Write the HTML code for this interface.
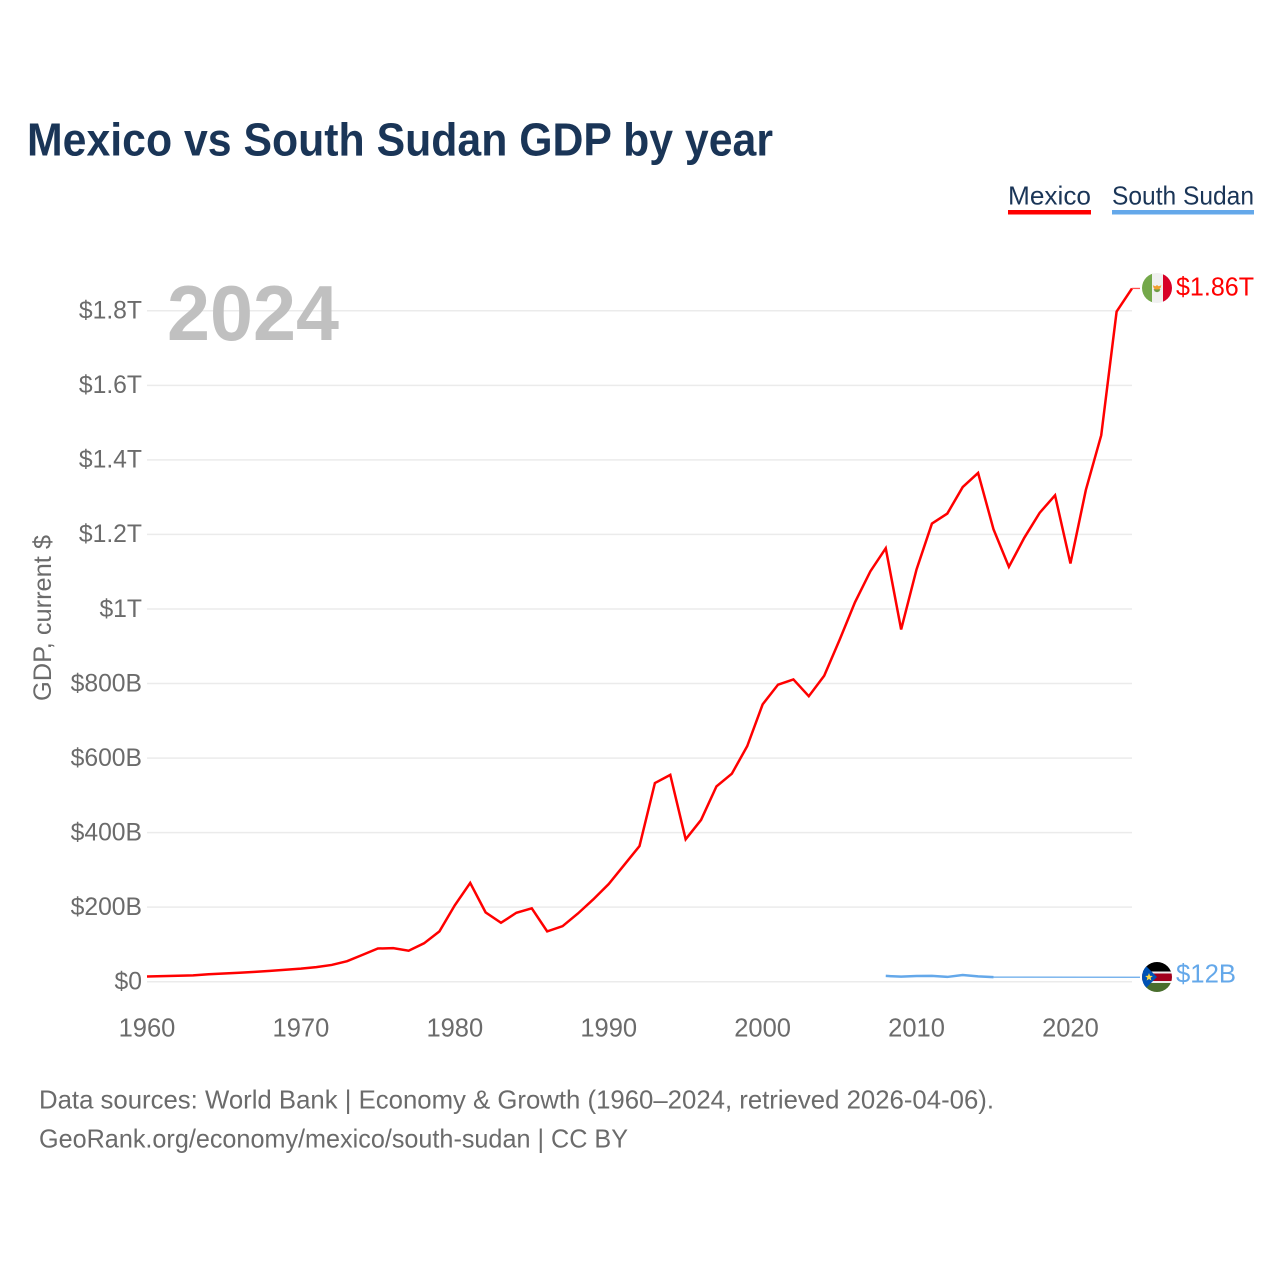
<!DOCTYPE html>
<html lang="en">
<head>
<meta charset="utf-8">
<title>Mexico vs South Sudan GDP by year</title>
<style>
html,body{margin:0;padding:0;background:#fff;}
svg{display:block;font-family:"Liberation Sans",sans-serif;}
</style>
</head>
<body>
<svg id="chart" xmlns="http://www.w3.org/2000/svg" width="1280" height="1280" viewBox="0 0 1280 1280">
  <defs>
    <clipPath id="flag-clip-mx"><circle cx="1157" cy="288" r="15"/></clipPath>
    <clipPath id="flag-clip-ss"><circle cx="1157" cy="977" r="15"/></clipPath>
  </defs>
  <rect x="0" y="0" width="1280" height="1280" fill="#fff"/>
  <text x="27" y="155.5" font-size="46" font-weight="700" fill="#1a3557" textLength="746" lengthAdjust="spacingAndGlyphs">Mexico vs South Sudan GDP by year</text>

  <g>
    <g>
      <text x="1008" y="204.5" font-size="26" fill="#1a3557" textLength="83" lengthAdjust="spacingAndGlyphs">Mexico</text>
      <rect x="1008" y="210" width="83" height="4.5" fill="#ff0000"/>
    </g>
    <g>
      <text x="1112" y="204.5" font-size="26" fill="#1a3557" textLength="142" lengthAdjust="spacingAndGlyphs">South Sudan</text>
      <rect x="1112" y="210" width="142" height="4.5" fill="#64a8ea"/>
    </g>
  </g>

  <g id="grid"></g>
  <g id="yticks"></g>
  <g id="xticks"></g>
  <text transform="translate(51,701) rotate(-90)" font-size="25" fill="#6b6b6b" textLength="166" lengthAdjust="spacingAndGlyphs">GDP, current $</text>
  <text x="167" y="340" font-size="78" font-weight="700" fill="#c0c0c0" textLength="172" lengthAdjust="spacingAndGlyphs">2024</text>

  <g id="series"></g>

  <g clip-path="url(#flag-clip-mx)">
    <rect x="1142" y="273" width="10.5" height="30" fill="#74a84a"/>
    <rect x="1152" y="273" width="11" height="30" fill="#f0f0f0"/>
    <rect x="1163" y="273" width="10" height="30" fill="#d80027"/>
    <path d="M1152.8 285.3l2.6 1 1.6-1.3 1.6 1.3 2.8-1-.8 2.4-1.6 1.8h-4.2l-1.2-1.8z" fill="#f0a030"/>
    <path d="M1153.6 289q3.4 1 6.8 0l-1 2.4-2.4.8-2.4-.8z" fill="#6d9a45"/>
  </g>
  <text id="value-mexico" x="1176" y="295.5" font-size="26" fill="#ff0000" textLength="78" lengthAdjust="spacingAndGlyphs">$1.86T</text>

  <g clip-path="url(#flag-clip-ss)">
    <rect x="1142" y="962" width="30" height="10" fill="#000"/>
    <rect x="1142" y="971.5" width="30" height="2" fill="#eee"/>
    <rect x="1142" y="973.5" width="30" height="7.5" fill="#a2001d"/>
    <rect x="1142" y="981" width="30" height="2" fill="#eee"/>
    <rect x="1142" y="983" width="30" height="9" fill="#496e2d"/>
    <polygon points="1142,962 1157,977 1142,992" fill="#0052b4"/>
    <polygon points="1149,973 1150,975.8 1152.8,976 1150.6,977.8 1151.4,980.5 1149,979 1146.6,980.5 1147.4,977.8 1145.2,976 1148,975.8" fill="#ffda44"/>
  </g>
  <text id="value-ss" x="1176" y="982.5" font-size="26" fill="#64a8ea" textLength="60" lengthAdjust="spacingAndGlyphs">$12B</text>

  <text x="39" y="1108.5" font-size="26" fill="#6b6b6b" textLength="955" lengthAdjust="spacingAndGlyphs">Data sources: World Bank | Economy &amp; Growth (1960–2024, retrieved 2026-04-06).</text>
  <text x="39" y="1147.5" font-size="26" fill="#6b6b6b" textLength="589" lengthAdjust="spacingAndGlyphs">GeoRank.org/economy/mexico/south-sudan | CC BY</text>
</svg>

<script>
const mexicoYears = [1960,1961,1962,1963,1964,1965,1966,1967,1968,1969,1970,1971,1972,1973,1974,1975,1976,1977,1978,1979,1980,1981,1982,1983,1984,1985,1986,1987,1988,1989,1990,1991,1992,1993,1994,1995,1996,1997,1998,1999,2000,2001,2002,2003,2004,2005,2006,2007,2008,2009,2010,2011,2012,2013,2014,2015,2016,2017,2018,2019,2020,2021,2022,2023,2024];
const mexicoGdpBillions = [14,15,16,17,20,22,24,26.5,29,32,35,39,45,55,72,89,90,83,103,135,205,265,186,158,185,197,135,149,183,221,262,313,364,533,555,382,434,524,558,632,744,797,811,766,821,917,1018,1101,1163,945,1106,1229,1256,1327,1365,1214,1113,1191,1258,1305,1122,1319,1466,1798,1860];
const southSudanYears = [2008,2009,2010,2011,2012,2013,2014,2015];
const southSudanGdpBillions = [15.5,13.5,15.3,15.5,12.8,18,14.2,12.3];
const southSudanLatestBillions = 12;
const yTickValues = [0,200,400,600,800,1000,1200,1400,1600,1800];
const yTickLabels = ['$0','$200B','$400B','$600B','$800B','$1T','$1.2T','$1.4T','$1.6T','$1.8T'];
const xTickValues = [1960,1970,1980,1990,2000,2010,2020];

const NS = 'http://www.w3.org/2000/svg';
const xScale = year => 147 + (year - 1960) * (1132 - 147) / 64;
const yScale = value => 981.7 - value * (981.7 - 310.8) / 1800;

function make(parent, tag, attrs, text) {
  const el = document.createElementNS(NS, tag);
  for (const k in attrs) el.setAttribute(k, attrs[k]);
  if (text !== undefined) el.textContent = text;
  parent.appendChild(el);
  return el;
}

const gridGroup = document.getElementById('grid');
const yGroup = document.getElementById('yticks');
const xGroup = document.getElementById('xticks');
const seriesGroup = document.getElementById('series');

yTickValues.forEach((v, i) => {
  const line = make(gridGroup, 'line', {x1: 147, x2: 1132, y1: yScale(v), y2: yScale(v), stroke: '#ebebeb', 'stroke-width': 1.5});
  
  
  const label = make(yGroup, 'text', {x: 142, y: yScale(v) + 7.8, 'text-anchor': 'end', 'font-size': 24.7, fill: '#6b6b6b'}, yTickLabels[i]);
  
  
});

xTickValues.forEach(v => {
  const label = make(xGroup, 'text', {x: xScale(v), y: 1036.5, 'text-anchor': 'middle', 'font-size': 25.5, fill: '#6b6b6b'}, String(v));
  
  
});

const pointString = (years, values) => years.map((y, i) => xScale(y).toFixed(2) + ',' + yScale(values[i]).toFixed(2)).join(' ');

const mexicoLine = make(seriesGroup, 'polyline', {points: pointString(mexicoYears, mexicoGdpBillions), fill: 'none', stroke: '#ff0000', 'stroke-width': 2.5, 'stroke-linejoin': 'miter'});



const lastMexico = mexicoGdpBillions[mexicoGdpBillions.length - 1];
const mexicoConnector = make(seriesGroup, 'line', {x1: xScale(2024), x2: 1140, y1: yScale(lastMexico), y2: yScale(lastMexico), stroke: '#ff5050', 'stroke-width': 1.3});



const lastSudanYear = southSudanYears[southSudanYears.length - 1];
const lastSudanValue = southSudanGdpBillions[southSudanGdpBillions.length - 1];
const sudanGap = make(seriesGroup, 'polyline', {points: pointString([lastSudanYear, 2024], [lastSudanValue, southSudanLatestBillions]) + ' 1140,' + yScale(southSudanLatestBillions).toFixed(2), fill: 'none', stroke: '#64a8ea', 'stroke-width': 1.3});



const sudanLine = make(seriesGroup, 'polyline', {points: pointString(southSudanYears, southSudanGdpBillions), fill: 'none', stroke: '#64a8ea', 'stroke-width': 2.5});


</script>
</body>
</html>
